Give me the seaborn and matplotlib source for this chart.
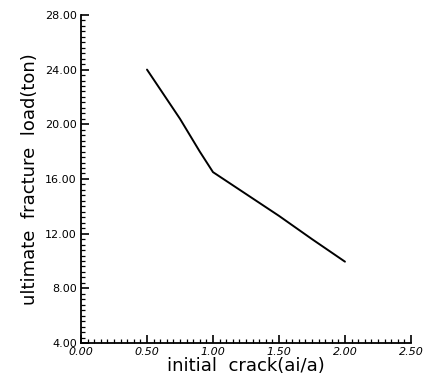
import pandas as pd
import matplotlib
matplotlib.use("Agg")
import matplotlib.pyplot as plt
import seaborn as sns
from matplotlib.ticker import MultipleLocator, FormatStrFormatter

sns.set_style("ticks")
plt.rcParams["font.family"] = ["DejaVu Sans"]
plt.rcParams["text.color"] = "black"
plt.rcParams["axes.labelcolor"] = "black"
plt.rcParams["xtick.color"] = "black"
plt.rcParams["ytick.color"] = "black"
plt.rcParams["axes.edgecolor"] = "black"

# data
crack = [0.50, 0.75, 0.90, 1.00, 1.25, 1.50, 1.75, 2.00]
load = [24.0, 20.4, 18.0, 16.5, 14.9, 13.3, 11.6, 9.95]

df = pd.DataFrame({"crack": crack, "load": load})

fig = plt.figure(figsize=(4.23, 3.86), dpi=100)
ax = fig.add_axes([0.1915, 0.1114, 0.78, 0.85])

sns.lineplot(data=df, x="crack", y="load", color="black", linewidth=1.4, ax=ax)

ax.set_xlim(0, 2.5)
ax.set_ylim(4, 28)
ax.xaxis.set_major_locator(MultipleLocator(0.5))
ax.xaxis.set_minor_locator(MultipleLocator(0.05))
ax.yaxis.set_major_locator(MultipleLocator(4))
ax.yaxis.set_minor_locator(MultipleLocator(0.4))
ax.xaxis.set_major_formatter(FormatStrFormatter("%.2f"))
ax.yaxis.set_major_formatter(FormatStrFormatter("%.2f"))

ax.tick_params(which="major", direction="in", length=6, width=1.2, labelsize=8, pad=3)
ax.tick_params(which="minor", direction="in", length=3, width=0.9)
for lab in ax.get_xticklabels():
    lab.set_style("italic")

sns.despine(ax=ax)
ax.spines["left"].set_linewidth(1.3)
ax.spines["bottom"].set_linewidth(1.3)

ax.set_xlabel("initial  crack(ai/a)", fontsize=13, labelpad=0)
ax.set_ylabel("ultimate  fracture  load(ton)", fontsize=13, labelpad=4)

plt.savefig("out.png", dpi=100)
